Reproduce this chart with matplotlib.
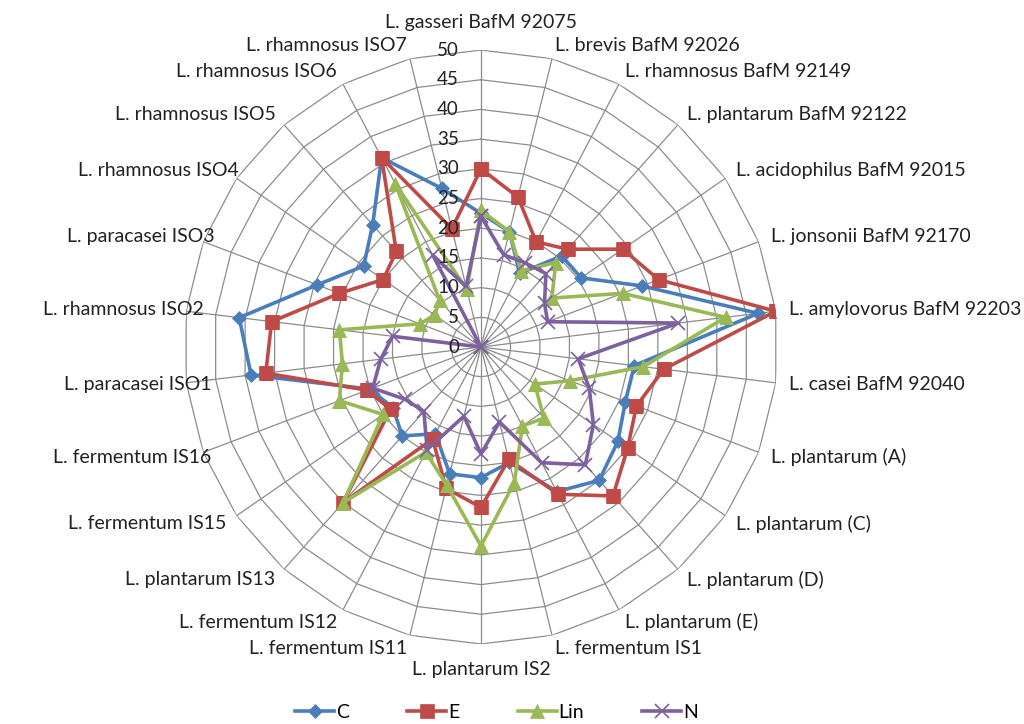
import numpy as np
import matplotlib
matplotlib.use("Agg")
import matplotlib.pyplot as plt
from matplotlib.lines import Line2D
from matplotlib.transforms import offset_copy

categories = ["L. gasseri BafM 92075", "L. brevis BafM 92026", "L. rhamnosus BafM 92149",
              "L. plantarum BafM 92122", "L. acidophilus BafM 92015", "L. jonsonii BafM 92170",
              "L. amylovorus BafM 92203", "L. casei BafM 92040", "L. plantarum (A)",
              "L. plantarum (C)", "L. plantarum (D)", "L. plantarum (E)", "L. fermentum IS1",
              "L. plantarum IS2", "L. fermentum IS11", "L. fermentum IS12", "L. plantarum IS13",
              "L. fermentum IS15", "L. fermentum IS16", "L. paracasei ISO1", "L. rhamnosus ISO2",
              "L. paracasei ISO3", "L. rhamnosus ISO4", "L. rhamnosus ISO5", "L. rhamnosus ISO6",
              "L. rhamnosus ISO7"]
C_vals = [22.5, 20, 14, 20.5, 20.5, 29, 47, 26, 26, 28, 30, 27.5, 20, 22, 22, 16.5, 20, 18, 20,
          39, 41, 29.5, 24, 27.5, 36, 27.5]
E_vals = [30, 26, 20, 22, 29, 32, 50, 31, 28, 30, 33.5, 28, 19.5, 27, 24.5, 17.5, 35, 18.5, 20.5,
          36.5, 35.5, 25.5, 20, 21.5, 36, 20.5]
Lin_vals = [23, 20, 14.5, 19, 14.5, 25.5, 41.5, 27.5, 16, 11, 16, 15, 23.5, 33.5, 24, 20, 35, 20,
            25.5, 23.5, 24, 11, 9.5, 10.5, 31, 10]
N_vals = [22, 16, 16, 16.5, 13, 12, 33.5, 16.5, 19.5, 23, 26.5, 22, 13, 18, 12, 19.5, 14.5, 15.5,
          19.5, 17, 15, 0, 0, 0, 17.5, 10.5]
series_names = ["C", "E", "Lin", "N"]
ring_ticks = [0, 5, 10, 15, 20, 25, 30, 35, 40, 45, 50]

plt.rcParams['font.family'] = ['Lato', 'DejaVu Sans']

fig = plt.figure(figsize=(10.24, 7.24), dpi=100)
ax = fig.add_axes([0.1797, 0.1105, 0.580, 0.8204], projection='polar')
ax.set_theta_offset(np.pi / 2)
ax.set_theta_direction(-1)
ax.set_ylim(0, 50)
ax.grid(False)
ax.spines['polar'].set_visible(False)
ax.set_xticks([])
ax.set_yticks([])
ax.patch.set_alpha(0)

n = len(categories)
theta = np.arange(n) * 2 * np.pi / n
theta_c = np.append(theta, theta[0])

grid_col = "#8c8c8c"
for r in ring_ticks[1:]:
    ax.plot(theta_c, [r] * (n + 1), color=grid_col, lw=0.9, zorder=1)
for t in theta:
    ax.plot([t, t], [0, 50], color=grid_col, lw=0.9, zorder=1)

# radial tick labels along the top spoke (drawn over the lines like Excel does)
tick_tr = offset_copy(ax.transData, fig=fig, x=-22, y=0, units='dots')
for r in ring_ticks:
    ax.text(0, r, str(r), transform=tick_tr, ha='right', va='center', fontsize=13.5,
            color='#222222', zorder=10)

# category labels; Excel squeezes the widest ones on the left inward
squeeze = {"L. paracasei ISO1": -25, "L. rhamnosus ISO2": -18, "L. paracasei ISO3": -11,
           "L. rhamnosus ISO4": -2, "L. fermentum IS16": -8}
for t, lab in zip(theta, categories):
    s, c = np.sin(t), np.cos(t)
    if abs(s) < 0.05:
        ha = 'center'
    elif s > 0:
        ha = 'left'
    else:
        ha = 'right'
    va = 'center'
    dx, dy = 13 * s, 14 * c
    if c > 0.98:
        dy = 28
    elif c < -0.98:
        dy = -26
    if lab in squeeze:
        dx = -squeeze[lab]
    tr = offset_copy(ax.transData, fig=fig, x=dx, y=dy, units='dots')
    ax.text(t, 50, lab, transform=tr, ha=ha, va=va, fontsize=14, color='#222222', zorder=10)

colors = ["#4a7ebb", "#be4b48", "#98b954", "#7d60a0"]
markers = ["D", "s", "^", "x"]
msizes = [7, 10.5, 10, 10]
vals = [C_vals, E_vals, Lin_vals, N_vals]
for name, v, col, mk, ms in zip(series_names, vals, colors, markers, msizes):
    vv = np.append(v, v[0])
    ax.plot(theta_c, vv, color=col, lw=2.6, marker=mk, markersize=ms,
            markeredgewidth=1.2 if mk == 'x' else 0.5, markeredgecolor=col, zorder=3)

handles = [Line2D([0], [0], color=col, lw=2.6, marker=mk, markersize=ms, markeredgecolor=col,
                  markeredgewidth=1.2 if mk == 'x' else 0.5)
           for col, mk, ms in zip(colors, markers, msizes)]
fig.legend(handles, series_names, loc='lower center', ncol=4, frameon=False,
           bbox_to_anchor=(0.485, -0.02), fontsize=14, handlelength=2.0, columnspacing=3.0,
           handletextpad=0.1)

fig.savefig("out.png", dpi=100, facecolor='white')
